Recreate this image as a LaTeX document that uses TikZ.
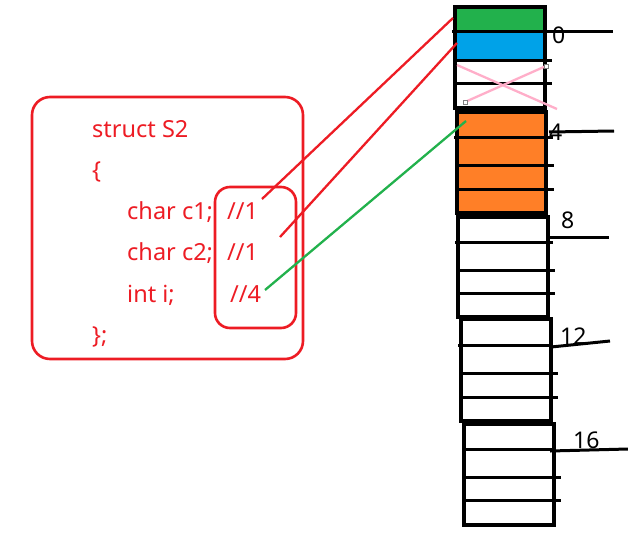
\documentclass[tikz,border=0pt]{standalone}
\usepackage{fontspec}
\setmainfont{Noto Sans}
\definecolor{codered}{RGB}{237,28,36}
\definecolor{fieldgreen}{RGB}{34,177,76}
\definecolor{fieldblue}{RGB}{0,162,232}
\definecolor{fieldorange}{RGB}{255,127,39}
\definecolor{padpink}{RGB}{255,174,201}
\tikzset{
	code/.style={anchor=base west, text=codered, font=\fontsize{23.5}{28}\selectfont, inner sep=0pt},
	offset/.style={anchor=base west, font=\fontsize{23}{28}\selectfont, inner sep=0pt},
	cell/.style={line width=3.4pt},
	tick/.style={line width=3pt},
	redlink/.style={line width=2.3pt, color=codered},
}
\begin{document}
\begin{tikzpicture}[x=1pt,y=-1pt]
			%%%%% START %%%%%
			\useasboundingbox (0,0) rectangle (628,543);
			
			% struct text
			\draw[line width=2.6pt, color=codered, rounded corners=18pt] (32,97) rectangle (303,359);
			\draw[line width=2.6pt, color=codered, rounded corners=15pt] (215,187) rectangle (296,328);
			
			\node[code] (title) at (92,137) {struct S2};
			\node[code] (open) at (92,178) {\{};
			\node[code] (mem1) at (127,219) {char c1;};
			\node[code] (mem2) at (127,260) {char c2;};
			\node[code] (mem3) at (127,302) {int i;};
			\node[code] (close) at (92,343) {\};};
			\node[code] (cmt1) at (227,219) {//1};
			\node[code] (cmt2) at (227,260) {//1};
			\node[code] (cmt3) at (230,302) {//4};
			
			% block 0
			\fill[fieldgreen] (455,7) rectangle (545,32);
			\fill[fieldblue] (455,32) rectangle (545,60);
			\draw[cell] (455,7) rectangle (545,108);
			\draw[tick] (452,32) -- (613,32);
			\draw[tick] (455,60) -- (552,60);
			\draw[tick] (455,83) -- (552,83);
			\draw[line width=2.3pt, color=padpink] (457,65) -- (557,109);
			\draw[line width=2.3pt, color=padpink] (465,102) -- (546,66);
			\draw[draw=gray, fill=white, line width=0.8pt] (463,100) rectangle (467,104);
			\draw[draw=gray, fill=white, line width=0.8pt] (544,64) rectangle (548,68);
			\node[offset] (off0) at (552,44) {0};
			
			% block 4
			\fill[fieldorange] (457,112) rectangle (546,213);
			\draw[cell] (457,112) rectangle (546,213);
			\draw[tick] (454,137) -- (553,137);
			\draw[tick] (549,132) -- (614,131);
			\draw[tick] (455,165) -- (554,165);
			\draw[tick] (457,189) -- (554,189);
			\node[offset] (off4) at (549,140) {4};
			
			% block 8
			\draw[cell] (458,217) rectangle (548,317);
			\draw[tick] (546,237) -- (609,237);
			\draw[tick] (455,242) -- (553,242);
			\draw[tick] (456,270) -- (555,270);
			\draw[tick] (458,293) -- (555,293);
			\node[offset] (off8) at (561,228) {8};
			
			% block 12
			\draw[cell] (461,319) rectangle (551,421);
			\draw[tick] (551,347) -- (610,341);
			\draw[tick] (458,345) -- (551,345);
			\draw[tick] (460,373) -- (558,373);
			\draw[tick] (462,397) -- (558,397);
			\node[offset] (off12) at (560,344) {12};
			
			% block 16
			\draw[cell] (464,424) rectangle (554,525);
			\draw[tick] (550,451) -- (628,449);
			\draw[tick] (462,449) -- (555,449);
			\draw[tick] (463,477) -- (561,477);
			\draw[tick] (464,500) -- (561,500);
			\node[offset] (off16) at (573,448) {16};
			
			% links
			\coordinate (c1end) at (262,199);
			\coordinate (c2end) at (280,237);
			\coordinate (iend) at (265,290);
			\coordinate (c1slot) at (453,18);
			\coordinate (c2slot) at (457,43);
			\coordinate (islot) at (466,121);
			\draw[redlink] (c1end) -- (c1slot);
			\draw[redlink] (c2end) -- (c2slot);
			\draw[line width=2.3pt, color=fieldgreen] (iend) -- (islot);
			
			%%%%% END %%%%%
\end{tikzpicture}
\end{document}
